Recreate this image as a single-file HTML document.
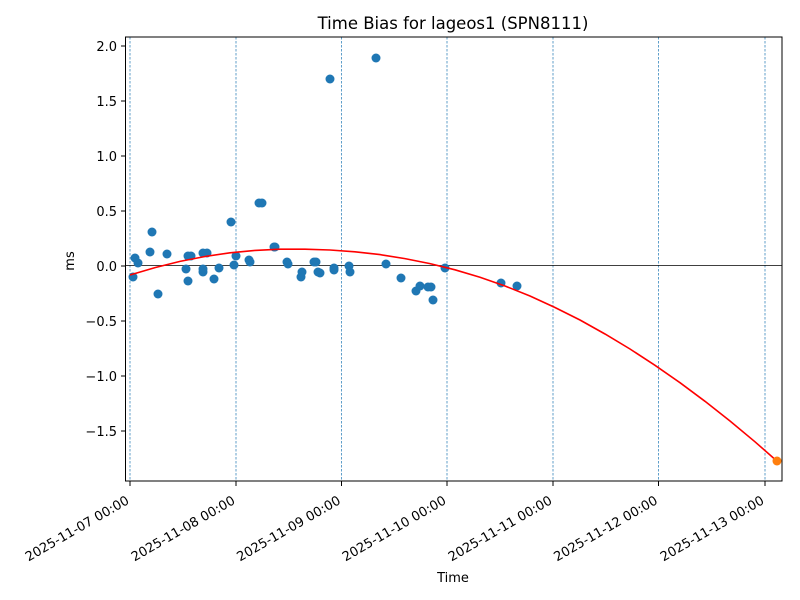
<!DOCTYPE html>
<html><head><meta charset="utf-8"><style>body{margin:0;background:#fff}svg{display:block}text{font-family:"DejaVu Sans","Liberation Sans",sans-serif;fill:#000}</style></head><body>
<svg width="800" height="600" viewBox="0 0 800 600" xmlns="http://www.w3.org/2000/svg">
<rect width="800" height="600" fill="#fff"/>
<text x="453" y="29" font-size="16.5" text-anchor="middle">Time Bias for lageos1 (SPN8111)</text>
<g stroke="#1f77b4" stroke-width="0.7" stroke-dasharray="2.5,1.5">
<line x1="130" y1="37" x2="130" y2="481"/><line x1="236" y1="37" x2="236" y2="481"/><line x1="341.5" y1="37" x2="341.5" y2="481"/><line x1="447" y1="37" x2="447" y2="481"/><line x1="553" y1="37" x2="553" y2="481"/><line x1="658.5" y1="37" x2="658.5" y2="481"/><line x1="765" y1="37" x2="765" y2="481"/>
</g>
<line x1="125.5" y1="265.5" x2="782" y2="265.5" stroke="#000" stroke-width="0.8"/>
<g fill="#1f77b4">
<circle cx="133" cy="277" r="4.5"/><circle cx="135" cy="258" r="4.5"/><circle cx="138" cy="263" r="4.5"/><circle cx="150" cy="252" r="4.5"/><circle cx="152" cy="232" r="4.5"/><circle cx="158" cy="294" r="4.5"/><circle cx="167" cy="254" r="4.5"/><circle cx="186" cy="269" r="4.5"/><circle cx="188" cy="281" r="4.5"/><circle cx="188" cy="256" r="4.5"/><circle cx="191" cy="256" r="4.5"/><circle cx="203" cy="272" r="4.5"/><circle cx="203" cy="269" r="4.5"/><circle cx="203" cy="253" r="4.5"/><circle cx="207" cy="253" r="4.5"/><circle cx="214" cy="279" r="4.5"/><circle cx="219" cy="268" r="4.5"/><circle cx="231" cy="222" r="4.5"/><circle cx="234" cy="265" r="4.5"/><circle cx="236" cy="256" r="4.5"/><circle cx="249" cy="260" r="4.5"/><circle cx="250" cy="262" r="4.5"/><circle cx="259" cy="203" r="4.5"/><circle cx="262" cy="203" r="4.5"/><circle cx="274" cy="247" r="4.5"/><circle cx="275" cy="247" r="4.5"/><circle cx="287" cy="262" r="4.5"/><circle cx="288" cy="264" r="4.5"/><circle cx="301" cy="277" r="4.5"/><circle cx="302" cy="272" r="4.5"/><circle cx="314" cy="262" r="4.5"/><circle cx="316" cy="262" r="4.5"/><circle cx="318" cy="272" r="4.5"/><circle cx="320" cy="273" r="4.5"/><circle cx="330" cy="79" r="4.5"/><circle cx="334" cy="268" r="4.5"/><circle cx="334" cy="270" r="4.5"/><circle cx="349" cy="266" r="4.5"/><circle cx="350" cy="272" r="4.5"/><circle cx="376" cy="58" r="4.5"/><circle cx="386" cy="264" r="4.5"/><circle cx="401" cy="278" r="4.5"/><circle cx="416" cy="291" r="4.5"/><circle cx="420" cy="286" r="4.5"/><circle cx="428" cy="287" r="4.5"/><circle cx="431" cy="287" r="4.5"/><circle cx="433" cy="300" r="4.5"/><circle cx="445" cy="268" r="4.5"/><circle cx="501" cy="283" r="4.5"/><circle cx="517" cy="286" r="4.5"/>
</g>
<polyline fill="none" stroke="#ff0000" stroke-width="1.6" points="130,275 155,267.6 180,261.4 205,256.5 230,252.8 255,250.4 280,249.2 305,249.2 330,250 355,251.8 380,254.6 405,258.6 430,263.6 455,269.8 480,277.2 505,286 530,296 555,307.5 580,320 605,334 630,349 655,365.3 680,382.7 705,401.3 730,421 755,441.8 777,461.1"/>
<circle cx="777" cy="461" r="4.5" fill="#ff7f0e"/>
<rect x="125.5" y="37" width="656.5" height="444" fill="none" stroke="#000" stroke-width="1"/>
<g stroke="#000" stroke-width="1">
<line x1="121" y1="46" x2="125.5" y2="46"/><line x1="121" y1="101" x2="125.5" y2="101"/><line x1="121" y1="156" x2="125.5" y2="156"/><line x1="121" y1="211" x2="125.5" y2="211"/><line x1="121" y1="266" x2="125.5" y2="266"/><line x1="121" y1="321" x2="125.5" y2="321"/><line x1="121" y1="376" x2="125.5" y2="376"/><line x1="121" y1="431" x2="125.5" y2="431"/>
<line x1="130" y1="481" x2="130" y2="486"/><line x1="236" y1="481" x2="236" y2="486"/><line x1="341.5" y1="481" x2="341.5" y2="486"/><line x1="447" y1="481" x2="447" y2="486"/><line x1="553" y1="481" x2="553" y2="486"/><line x1="658.5" y1="481" x2="658.5" y2="486"/><line x1="765" y1="481" x2="765" y2="486"/>
</g>
<g font-size="13" text-anchor="end">
<text x="117" y="51">2.0</text><text x="117" y="106">1.5</text><text x="117" y="161">1.0</text><text x="117" y="216">0.5</text><text x="117" y="271">0.0</text><text x="117" y="326">−0.5</text><text x="117" y="381">−1.0</text><text x="117" y="436">−1.5</text>
</g>
<g font-size="13" text-anchor="end">
<text transform="translate(130,503) rotate(-30)">2025-11-07 00:00</text>
<text transform="translate(236,503) rotate(-30)">2025-11-08 00:00</text>
<text transform="translate(341.5,503) rotate(-30)">2025-11-09 00:00</text>
<text transform="translate(447,503) rotate(-30)">2025-11-10 00:00</text>
<text transform="translate(553,503) rotate(-30)">2025-11-11 00:00</text>
<text transform="translate(658.5,503) rotate(-30)">2025-11-12 00:00</text>
<text transform="translate(765,503) rotate(-30)">2025-11-13 00:00</text>
</g>
<text x="453" y="582" font-size="13" text-anchor="middle">Time</text>
<text transform="translate(74,261) rotate(-90)" font-size="13" text-anchor="middle">ms</text>
</svg>
</body></html>
